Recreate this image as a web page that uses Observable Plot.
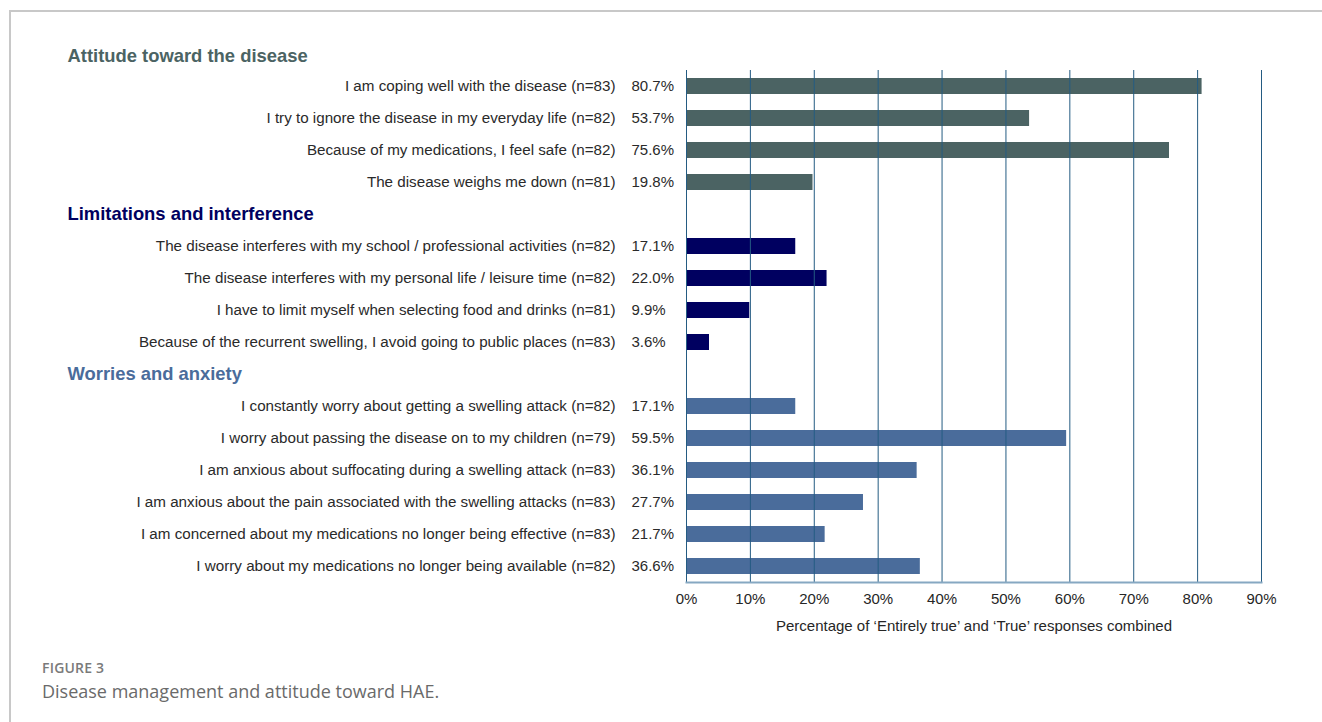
<!DOCTYPE html>
<html><head><meta charset="utf-8">
<script src="https://cdn.jsdelivr.net/npm/d3@7"></script>
<script src="https://cdn.jsdelivr.net/npm/@observablehq/plot@0.6"></script>
<style>
body{margin:0;background:#fff;font-family:"Liberation Sans",Arial,sans-serif;width:1322px;height:722px;overflow:hidden;position:relative;}
#frame{position:absolute;left:9px;top:10px;width:1320px;height:720px;border-top:2px solid #c8c8c8;border-left:2px solid #c8c8c8;}
#chart{position:absolute;left:0;top:0;}
#fig{position:absolute;left:42px;top:658px;font-family:"Open Sans",sans-serif;font-size:14px;font-weight:600;color:#7a7a7a;letter-spacing:0.2px;}
#cap{position:absolute;left:42px;top:679px;font-family:"Open Sans",sans-serif;font-size:18px;color:#6a6a6a;}
</style></head>
<body>
<div id="frame"></div>
<div id="chart"></div>
<div id="fig">FIGURE 3</div>
<div id="cap">Disease management and attitude toward HAE.</div>
<script>
const groupNames = ["Attitude toward the disease", "Limitations and interference", "Worries and anxiety"];
const groupColors = ["#4b6363", "#000060", "#4a6c9b"];
const attitudeItems = [
  "I am coping well with the disease (n=83)",
  "I try to ignore the disease in my everyday life (n=82)",
  "Because of my medications, I feel safe (n=82)",
  "The disease weighs me down (n=81)"
];
const attitudeValues = [80.7, 53.7, 75.6, 19.8];
const limitationItems = [
  "The disease interferes with my school / professional activities (n=82)",
  "The disease interferes with my personal life / leisure time (n=82)",
  "I have to limit myself when selecting food and drinks (n=81)",
  "Because of the recurrent swelling, I avoid going to public places (n=83)"
];
const limitationValues = [17.1, 22.0, 9.9, 3.6];
const worryItems = [
  "I constantly worry about getting a swelling attack (n=82)",
  "I worry about passing the disease on to my children (n=79)",
  "I am anxious about suffocating during a swelling attack (n=83)",
  "I am anxious about the pain associated with the swelling attacks (n=83)",
  "I am concerned about my medications no longer being effective (n=83)",
  "I worry about my medications no longer being available (n=82)"
];
const worryValues = [17.1, 59.5, 36.1, 27.7, 21.7, 36.6];
const xTicks = [0, 10, 20, 30, 40, 50, 60, 70, 80, 90];
const xLabel = "Percentage of \u2018Entirely true\u2019 and \u2018True\u2019 responses combined";

const groups = [
  {items: attitudeItems, values: attitudeValues},
  {items: limitationItems, values: limitationValues},
  {items: worryItems, values: worryValues}
];
const rows = [];
const headers = [];
const domain = [];
groups.forEach((g, gi) => {
  if (gi > 0) {
    const key = "__h" + gi;
    domain.push(key);
    headers.push({key, label: groupNames[gi], color: groupColors[gi]});
  }
  g.items.forEach((item, i) => {
    domain.push(item);
    rows.push({item, value: g.values[i], color: groupColors[gi]});
  });
});
const firstHeader = [{label: groupNames[0], color: groupColors[0]}];

const marginLeft = 686;
const chart = Plot.plot({
  width: 1322,
  height: 637,
  marginTop: 70,
  marginBottom: 55,
  marginLeft,
  marginRight: 61,
  style: {fontFamily: "'Liberation Sans', Arial, sans-serif", fontSize: "15px", background: "transparent", overflow: "visible"},
  x: {domain: [0, 90]},
  y: {domain, paddingInner: 0.5, paddingOuter: 0.25},
  marks: [
    Plot.barX(rows, {x: "value", y: "item", fill: d => d.color}),
    Plot.ruleX(xTicks, {stroke: "#245b82", strokeWidth: 1}),
    Plot.frame({anchor: "bottom", stroke: "#86a8c2", strokeWidth: 2}),
    Plot.axisX({ticks: xTicks, tickFormat: d => d + "%", tickSize: 0, tickPadding: 11, fill: "#262626", fontSize: 15,
      label: xLabel, labelAnchor: "center", labelOffset: 48, labelArrow: "none"}),
    Plot.axisY({tickSize: 0, tickPadding: 71, tickFormat: d => d.startsWith("__") ? "" : d, fill: "#2a2a2a", fontSize: 15.2, label: null}),
    Plot.text(rows, {y: "item", text: d => d.value.toFixed(1) + "%", frameAnchor: "left", dx: -55, textAnchor: "start", fill: "#2a2a2a", fontSize: 15}),
    Plot.text(headers, {y: "key", text: "label", frameAnchor: "left", dx: 67 - marginLeft, textAnchor: "start", fill: d => d.color, fontWeight: "bold", fontSize: 18.4}),
    Plot.text(firstHeader, {text: "label", frameAnchor: "top-left", dx: 67 - marginLeft, dy: -14, textAnchor: "start", lineAnchor: "middle", fill: d => d.color, fontWeight: "bold", fontSize: 18.4})
  ]
});
document.getElementById("chart").appendChild(chart);
</script>
</body></html>
